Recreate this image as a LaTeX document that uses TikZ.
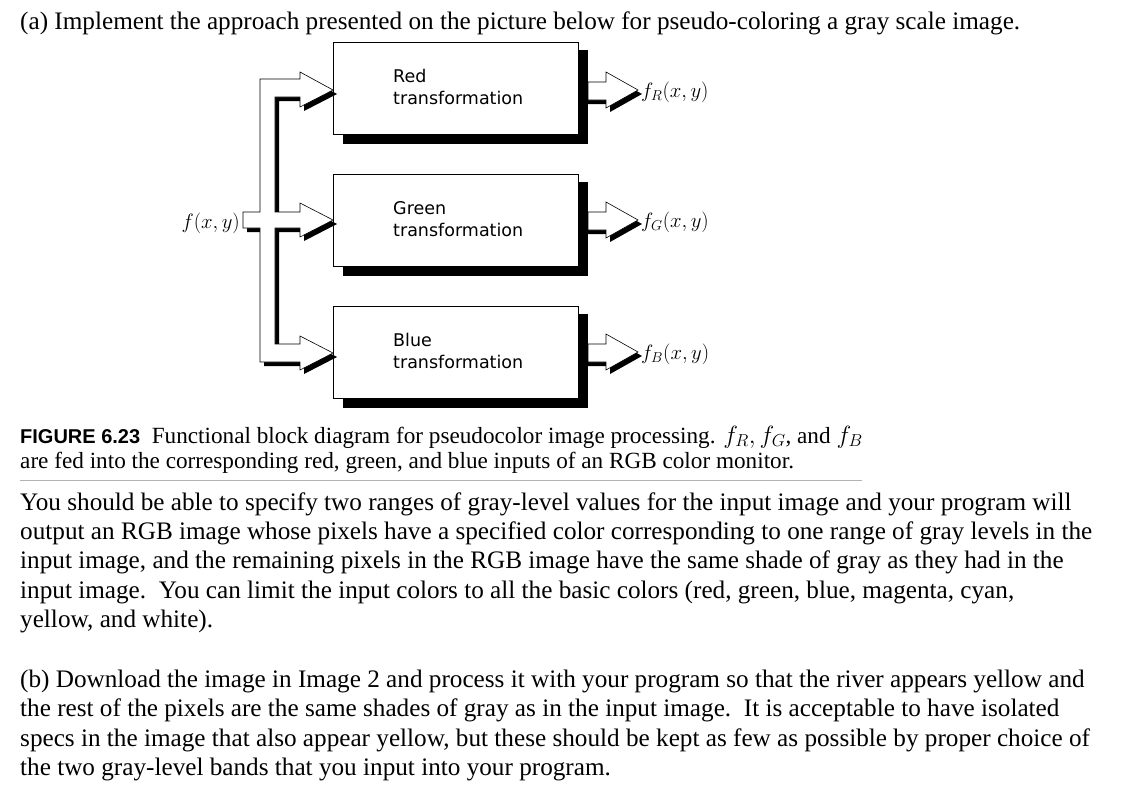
\documentclass[tikz,border=0pt]{standalone}
\usepackage{fontspec}
\setmainfont{Liberation Serif}
\newfontfamily\boxfont{DejaVu Sans}
\newfontfamily\capfont{Liberation Sans}
\usetikzlibrary{positioning}
\tikzset{
  txt/.style={anchor=base west, inner sep=0pt, font=\fontsize{25.2}{30}\selectfont},
  captxt/.style={anchor=base west, inner sep=0pt, font=\fontsize{23.2}{28}\selectfont},
  blk/.style={draw, line width=0.8pt, fill=white, minimum width=245pt, minimum height=92pt, anchor=north west},
  blkshadow/.style={fill=black},
  lbl/.style={anchor=base west, inner sep=0pt, align=left, font=\boxfont\fontsize{17.5}{24}\selectfont},
  mlbl/.style={anchor=base west, inner sep=0pt, font=\fontsize{22}{26}\selectfont},
}
\newcommand{\outarrow}[1]{%
  \fill[black] (588,#1-4) -- (610,#1-4) -- (610,#1-14) -- (642,#1+4) -- (610,#1+22) -- (610,#1+14) -- (588,#1+14) -- cycle;
  \draw[fill=white, line width=0.6pt] (588,#1-8) -- (606,#1-8) -- (606,#1-18) -- (638,#1) -- (606,#1+18) -- (606,#1+10) -- (588,#1+10) -- cycle;}
\begin{document}
\begin{tikzpicture}[x=1pt, y=-1pt]
\useasboundingbox (0,0) rectangle (1140,790);
% Heading
\node[txt] (head) at (20,29) {(a) Implement the approach presented on the picture below for pseudo-coloring a gray scale image.};
% Blocks
\foreach \name/\top/\col in {red/42/Red, green/174/Green, blue/306/Blue} {
  \fill[blkshadow] (343,\top+8) rectangle (588,\top+102);
  \node[blk] (\name) at (333,\top) {};
  \node[lbl] at (393,\top+62) {\col\\[-2pt]transformation};
}
% Input manifold
\begin{scope}[shift={(4,4)}]
\fill[black] (243,212) -- (260,212) -- (260,79) -- (300,79) -- (300,72) -- (333,90) -- (300,107) -- (300,97) -- (275,97) -- (275,212) -- (300,212) -- (300,203) -- (333,220) -- (300,237) -- (300,228) -- (275,228) -- (275,344) -- (300,344) -- (300,336) -- (333,353) -- (300,370) -- (300,362) -- (260,362) -- (260,228) -- (243,228) -- cycle;
\end{scope}
\draw[fill=white, line width=0.6pt] (243,212) -- (260,212) -- (260,79) -- (300,79) -- (300,72) -- (333,90) -- (300,107) -- (300,97) -- (275,97) -- (275,212) -- (300,212) -- (300,203) -- (333,220) -- (300,237) -- (300,228) -- (275,228) -- (275,344) -- (300,344) -- (300,336) -- (333,353) -- (300,370) -- (300,362) -- (260,362) -- (260,228) -- (243,228) -- cycle;
\node[anchor=base east, inner sep=0pt, font=\fontsize{22}{26}\selectfont] (in) at (240,228) {$f(x,y)$};
% Outputs
\outarrow{90}
\outarrow{220}
\outarrow{352}
\node[mlbl] (fr) at (641,97) {$f_R(x,y)$};
\node[mlbl] (fg) at (641,227) {$f_G(x,y)$};
\node[mlbl] (fb) at (641,359) {$f_B(x,y)$};
% Caption
\node[captxt] (cap1) at (20,443) {{\capfont\bfseries\fontsize{20}{24}\selectfont FIGURE 6.23}\ \ Functional block diagram for pseudocolor image processing. $f_R, f_G$, and $f_B$};
\node[captxt] (cap2) at (20,468) {are fed into the corresponding red, green, and blue inputs of an RGB color monitor.};
\draw[gray!60, line width=1pt] (20,480) -- (862,480);
% Text
\node[txt] (p1) at (20,510) {You should be able to specify two ranges of gray-level values for the input image and your program will};
\node[txt] (p2) at (20,539) {output an RGB image whose pixels have a specified color corresponding to one range of gray levels in the};
\node[txt] (p3) at (20,568) {input image, and the remaining pixels in the RGB image have the same shade of gray as they had in the};
\node[txt] (p4) at (20,598) {input image.\ \ You can limit the input colors to all the basic colors (red, green, blue, magenta, cyan,};
\node[txt] (p5) at (20,627) {yellow, and white).};
\node[txt] (b1) at (20,687) {(b) Download the image in Image 2 and process it with your program so that the river appears yellow and};
\node[txt] (b2) at (20,716) {the rest of the pixels are the same shades of gray as in the input image.\ \ It is acceptable to have isolated};
\node[txt] (b3) at (20,746) {specs in the image that also appear yellow, but these should be kept as few as possible by proper choice of};
\node[txt] (b4) at (20,775) {the two gray-level bands that you input into your program.};
\end{tikzpicture}
\end{document}
